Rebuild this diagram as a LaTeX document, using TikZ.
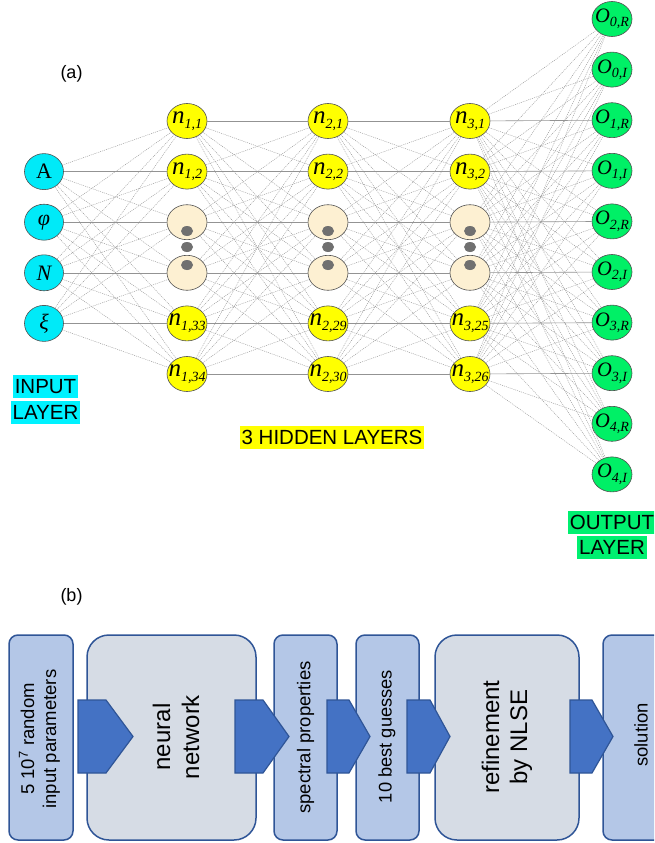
\documentclass[tikz,border=0pt]{standalone}
\usepackage{fontspec}
\setmainfont{Liberation Sans}
\newfontfamily\tnr{Liberation Serif}
\usetikzlibrary{shapes.geometric}
\definecolor{incol}{HTML}{00EAF8}
\definecolor{cyanhl}{HTML}{00F2FF}
\definecolor{hidcol}{HTML}{FFFF00}
\definecolor{tancol}{HTML}{FDF0D2}
\definecolor{outcol}{HTML}{00F066}
\definecolor{greenhl}{HTML}{00F070}
\definecolor{nodebd}{HTML}{505050}
\definecolor{dotcol}{HTML}{707070}
\definecolor{boxfill}{HTML}{B4C7E7}
\definecolor{bigfill}{HTML}{D6DCE5}
\definecolor{boxbd}{HTML}{2F5597}
\definecolor{arrfill}{HTML}{4472C4}
\newcommand{\nlab}[2]{{\fontsize{25}{25}\selectfont\tnr\itshape n}\raisebox{-4.5pt}{\fontsize{14}{14}\selectfont\tnr\itshape #1,#2}}
\newcommand{\olab}[2]{{\fontsize{20.5}{20.5}\selectfont\tnr\itshape O}\raisebox{-4.5pt}{\fontsize{14}{14}\selectfont\tnr\itshape #1,#2}}
\newcommand{\chevron}[3]{\draw[chev] (#1,700) -- (#2,700) -- (#3,736.5) -- (#2,773) -- (#1,773) -- cycle;}
\begin{document}
\begin{tikzpicture}[x=1pt,y=-1pt,
  neuron/.style={ellipse, draw=nodebd, line width=0.6pt, minimum width=40pt, minimum height=35pt, inner sep=0pt},
  inp/.style={neuron, fill=incol, minimum width=39pt, minimum height=36pt},
  hid/.style={neuron, fill=hidcol},
  tan/.style={neuron, fill=tancol},
  outn/.style={neuron, fill=outcol},
  lab/.style={inner sep=0pt},
  ilab/.style={inner sep=0pt, font=\fontsize{22}{22}\selectfont\tnr},
  dot/.style={ellipse, fill=dotcol, minimum width=12pt, minimum height=10pt, inner sep=0pt},
  ed/.style={draw=gray!80, dash pattern=on 1pt off 1pt, line width=0.45pt},
  eh/.style={draw=gray!85, line width=0.6pt},
  hl/.style={font=\fontsize{20.5}{20.5}\selectfont, inner xsep=2pt, inner ysep=3.5pt, text height=15pt, text depth=1pt},
  plain/.style={font=\fontsize{18}{18}\selectfont, inner sep=0pt},
  sbox/.style={draw=boxbd, line width=1.5pt, fill=boxfill, rounded corners=9pt, minimum height=205pt, inner sep=0pt},
  bbox/.style={draw=boxbd, line width=1.5pt, fill=bigfill, rounded corners=22pt, minimum height=205pt, inner sep=0pt},
  chev/.style={draw=boxbd, line width=1.2pt, fill=arrfill, line join=miter},
  btxt/.style={rotate=90, align=center, inner sep=0pt}
]
\useasboundingbox (0,0) rectangle (654,843);
\clip (0,0) rectangle (654,843);

% ---------------- (a) ----------------
\node[plain] (la) at (71.5,74) {(a)};

% input layer
\node[inp, label={[ilab]center:A}] (in1) at (44,171.6) {};
\node[inp, label={[ilab]center:\itshape φ}] (in2) at (44,222.2) {};
\node[inp, label={[ilab]center:\itshape N}] (in3) at (44,272.8) {};
\node[inp, label={[ilab]center:\itshape ξ}] (in4) at (44,323.4) {};

% hidden layer 1
\node[hid, label={[lab]center:\nlab{1}{1}}] (a1) at (187,121) {};
\node[hid, label={[lab]center:\nlab{1}{2}}] (a2) at (187,171.6) {};
\node[tan] (a3) at (187,222.2) {};
\node[tan] (a4) at (187,272.8) {};
\node[hid, label={[lab]center:\nlab{1}{33}}] (a5) at (187,323.4) {};
\node[hid, label={[lab]center:\nlab{1}{34}}] (a6) at (187,374) {};
% hidden layer 2
\node[hid, label={[lab]center:\nlab{2}{1}}] (b1) at (328,121) {};
\node[hid, label={[lab]center:\nlab{2}{2}}] (b2) at (328,171.6) {};
\node[tan] (b3) at (328,222.2) {};
\node[tan] (b4) at (328,272.8) {};
\node[hid, label={[lab]center:\nlab{2}{29}}] (b5) at (328,323.4) {};
\node[hid, label={[lab]center:\nlab{2}{30}}] (b6) at (328,374) {};
% hidden layer 3
\node[hid, label={[lab]center:\nlab{3}{1}}] (c1) at (470,121) {};
\node[hid, label={[lab]center:\nlab{3}{2}}] (c2) at (470,171.6) {};
\node[tan] (c3) at (470,222.2) {};
\node[tan] (c4) at (470,272.8) {};
\node[hid, label={[lab]center:\nlab{3}{25}}] (c5) at (470,323.4) {};
\node[hid, label={[lab]center:\nlab{3}{26}}] (c6) at (470,374) {};

% output layer
\node[outn, label={[lab]center:\olab{0}{R}}] (o0) at (612,19) {};
\node[outn, label={[lab]center:\olab{0}{I}}] (o1) at (612,69.6) {};
\node[outn, label={[lab]center:\olab{1}{R}}] (o2) at (612,120.2) {};
\node[outn, label={[lab]center:\olab{1}{I}}] (o3) at (612,170.8) {};
\node[outn, label={[lab]center:\olab{2}{R}}] (o4) at (612,221.4) {};
\node[outn, label={[lab]center:\olab{2}{I}}] (o5) at (612,272) {};
\node[outn, label={[lab]center:\olab{3}{R}}] (o6) at (612,322.6) {};
\node[outn, label={[lab]center:\olab{3}{I}}] (o7) at (612,373.2) {};
\node[outn, label={[lab]center:\olab{4}{R}}] (o8) at (612,423.8) {};
\node[outn, label={[lab]center:\olab{4}{I}}] (o9) at (612,474.4) {};

% connections
\foreach \i in {1,...,4}{\foreach \j in {1,...,6}{
  \pgfmathtruncatemacro\k{\i+1}
  \ifnum\k=\j\relax \draw[eh] (in\i) -- (a\j); \else \draw[ed] (in\i) -- (a\j); \fi}}
\foreach \i in {1,...,6}{\foreach \j in {1,...,6}{
  \ifnum\i=\j\relax \draw[eh] (a\i) -- (b\j); \draw[eh] (b\i) -- (c\j);
  \else \draw[ed] (a\i) -- (b\j); \draw[ed] (b\i) -- (c\j); \fi}}
\foreach \i in {1,...,6}{\foreach \j in {0,...,9}{
  \pgfmathtruncatemacro\k{\i+1}
  \ifnum\k=\j\relax \draw[eh] (c\i) -- (o\j); \else \draw[ed] (c\i) -- (o\j); \fi}}

% ellipsis dots
\foreach \x/\n in {187/a,328/b,470/c}{
  \node[dot] (\n d1) at (\x,231) {};
  \node[dot] (\n d2) at (\x,247) {};
  \node[dot] (\n d3) at (\x,265) {};
}

% layer labels
\node[hl, fill=cyanhl] (il1) at (45.5,386.5) {INPUT};
\node[hl, fill=cyanhl] (il2) at (45.5,412.5) {LAYER};
\node[hl, fill=hidcol] (hl1) at (332,437.5) {3 HIDDEN LAYERS};
\node[hl, fill=greenhl] (ol1) at (612,522) {OUTPUT};
\node[hl, fill=greenhl] (ol2) at (612,547) {LAYER};

% ---------------- (b) ----------------
\node[plain] (lb) at (71.5,597) {(b)};

\node[sbox, minimum width=64pt] (f1) at (41,737.5) {};
\node[bbox, minimum width=169pt] (f2) at (171.5,737.5) {};
\node[sbox, minimum width=63pt] (f3) at (305.5,737.5) {};
\node[sbox, minimum width=63pt] (f4) at (387.5,737.5) {};
\node[bbox, minimum width=144pt] (f5) at (507,737.5) {};
\node[sbox, minimum width=69pt] (f6) at (637.5,737.5) {};

\node[btxt, font=\fontsize{18.5}{22}\selectfont] (t1) at (39.5,739) {5 10\textsuperscript{7} random\\input parameters};
\node[btxt, font=\fontsize{24}{29}\selectfont] (t2) at (176,737) {neural\\network};
\node[btxt, font=\fontsize{18.5}{22}\selectfont] (t3) at (305.5,737.5) {spectral properties};
\node[btxt, font=\fontsize{18.3}{22}\selectfont] (t4) at (387,736.5) {10 best guesses};
\node[btxt, font=\fontsize{24}{28}\selectfont] (t5) at (507,737) {refinement\\by NLSE};
\node[btxt, font=\fontsize{18.4}{22}\selectfont] (t6) at (641,735) {solution};

\chevron{78}{106}{133}
\chevron{235}{263}{289}
\chevron{327}{349}{370}
\chevron{407}{430}{450}
\chevron{570}{592}{613}
\end{tikzpicture}
\end{document}
